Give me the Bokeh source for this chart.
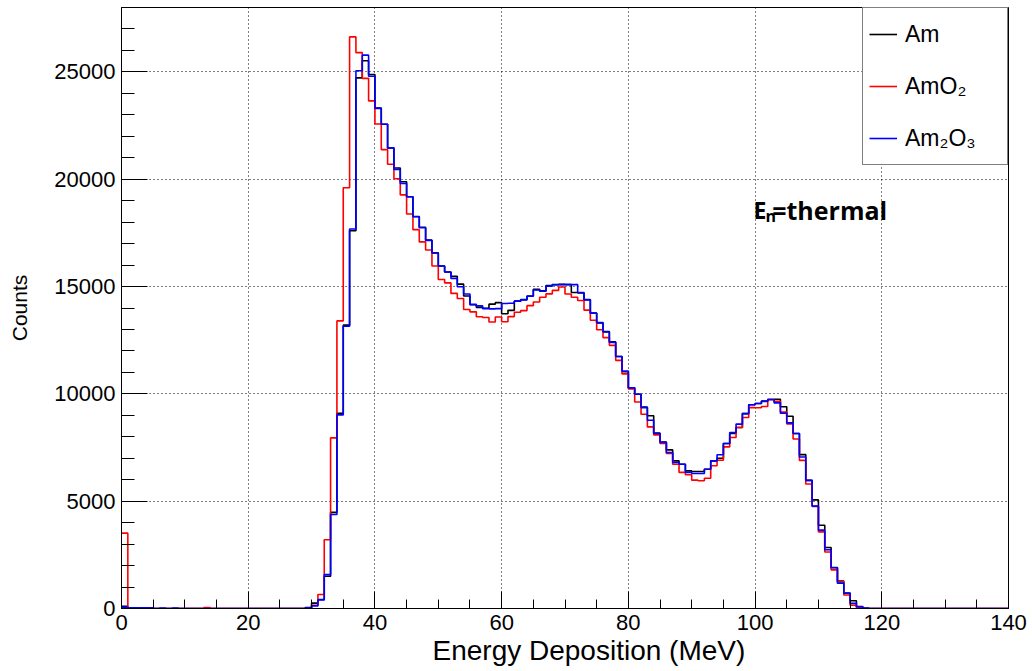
import math
from bokeh.plotting import figure
from bokeh.models import Range1d, FixedTicker, Label, Legend, LegendItem, BasicTickFormatter, Title
from bokeh.embed import file_html
from bokeh.resources import INLINE

# ---- data (1 MeV bins, 0..140 MeV) ----
bin_edges = list(range(0, 141))

am = [
    100, 20, 0, 0, 0, 0, 0, 0, 0, 0,
    0, 0, 0, 0, 0, 0, 0, 0, 0, 0,
    0, 0, 0, 0, 0, 0, 0, 0, 0, 40,
    250, 420, 1500, 4480, 9100, 13200, 17600, 24720, 25520, 24880,
    23320, 22560, 21460, 20520, 19880, 19180, 18260, 17760, 17160, 16570,
    15960, 15680, 15480, 15110, 14560, 14150, 14030, 13990, 14180, 14250,
    13730, 13890, 14320, 14390, 14560, 14870, 14800, 15050, 15090, 15100,
    15080, 14720, 14700, 14390, 13760, 13300, 12900, 12420, 11740, 11030,
    10280, 9980, 9380, 8980, 8170, 7760, 7390, 6880, 6720, 6410,
    6380, 6380, 6490, 6880, 7000, 7690, 8150, 8430, 9080, 9490,
    9550, 9660, 9740, 9750, 9400, 8960, 8150, 7170, 5970, 5060,
    3880, 2840, 1910, 1280, 720, 360, 90, 10, 0, 0,
    0, 0, 0, 0, 0, 0, 0, 0, 0, 0,
    0, 0, 0, 0, 0, 0, 0, 0, 0, 0,
]

amo2 = [
    3510, 0, 0, 0, 0, 0, 0, 0, 0, 0,
    0, 0, 0, 40, 0, 0, 0, 0, 0, 0,
    0, 0, 0, 0, 0, 0, 0, 0, 0, 30,
    150, 650, 3200, 7950, 13400, 19600, 26630, 25900, 24700, 23650,
    22570, 21380, 20700, 20020, 19270, 18380, 17650, 17080, 16700, 15960,
    15330, 15170, 14680, 14440, 13930, 13820, 13590, 13560, 13350, 13580,
    13360, 13600, 13800, 13880, 14110, 14280, 14500, 14660, 14820, 14980,
    14650, 14500, 14350, 13900, 13430, 12990, 12620, 12260, 11560, 10930,
    10230, 9620, 9050, 8460, 8090, 7690, 7220, 6720, 6340, 6230,
    5980, 5950, 6070, 6650, 6910, 7530, 7970, 8430, 8900, 9360,
    9350, 9410, 9740, 9650, 9150, 8600, 7900, 6900, 5800, 4760,
    3570, 2630, 1800, 1240, 630, 150, 40, 0, 0, 0,
    0, 0, 0, 0, 0, 0, 0, 0, 0, 0,
    0, 0, 0, 0, 0, 0, 0, 0, 0, 0,
]

am2o3 = [
    60, 30, 30, 30, 30, 0, 20, 0, 20, 0,
    0, 0, 0, 0, 0, 0, 0, 0, 0, 0,
    0, 0, 0, 0, 0, 0, 0, 0, 0, 30,
    120, 400, 1580, 4380, 9020, 13150, 17680, 25050, 25780, 24800,
    23300, 22560, 21460, 20450, 19800, 19180, 18250, 17740, 17150, 16560,
    15960, 15680, 15380, 14990, 14650, 14170, 14100, 13970, 13960, 13970,
    14210, 14220, 14320, 14380, 14550, 14840, 14780, 15020, 15080, 15090,
    15100, 15090, 14720, 14380, 13760, 13320, 12880, 12400, 11740, 11060,
    10280, 9980, 9360, 8770, 8150, 7740, 7270, 6800, 6720, 6340,
    6290, 6290, 6490, 6880, 7160, 7690, 8200, 8590, 9080, 9490,
    9550, 9650, 9740, 9580, 9100, 8650, 8150, 7060, 5970, 4770,
    3650, 2740, 1900, 1180, 710, 240, 80, 20, 0, 0,
    0, 0, 0, 0, 0, 0, 0, 0, 0, 0,
    0, 0, 0, 0, 0, 0, 0, 0, 0, 0,
]

series_labels = ["Am", "AmO\u2082", "Am\u2082O\u2083"]
series_colors = ["#000000", "#ff0000", "#0000ff"]

x_major = [0, 20, 40, 60, 80, 100, 120, 140]
x_minor = list(range(0, 141, 5))
y_major = [0, 5000, 10000, 15000, 20000, 25000]
y_minor = list(range(0, 28001, 1000))

FONT = "Liberation Sans"

p = figure(width=1032, height=671, output_backend="svg", toolbar_location=None,
           x_range=Range1d(0, 140), y_range=Range1d(0, 28000),
           min_border_left=121, min_border_right=24, min_border_top=7, min_border_bottom=63)
p.background_fill_color = "white"
p.border_fill_color = "white"
p.outline_line_color = "black"
p.outline_line_width = 1

for ax, maj, mnr, tin, tmin in ((p.xaxis[0], x_major, x_minor, 17, 9), (p.yaxis[0], y_major, y_minor, 26, 13)):
    ax.ticker = FixedTicker(ticks=maj, minor_ticks=mnr)
    ax.major_tick_in = tin
    ax.major_tick_out = 0
    ax.minor_tick_in = tmin
    ax.minor_tick_out = 0
    ax.axis_line_color = "black"
    ax.major_tick_line_color = "black"
    ax.minor_tick_line_color = "black"
    ax.major_label_text_font = FONT
    ax.major_label_text_font_size = "22px"
    ax.major_label_text_color = "black"
p.xaxis.major_label_standoff = 6
p.yaxis.major_label_standoff = 6
p.yaxis[0].formatter = BasicTickFormatter(use_scientific=False)

p.yaxis[0].axis_label = "Counts"
p.yaxis[0].axis_label_text_font = FONT
p.yaxis[0].axis_label_text_font_size = "21px"
p.yaxis[0].axis_label_text_font_style = "normal"
p.yaxis[0].axis_label_text_color = "black"
p.yaxis[0].axis_label_standoff = 20

for g in (p.xgrid, p.ygrid):
    g.grid_line_color = "black"
    g.grid_line_dash = "1 3"
    g.grid_line_width = 1
p.xgrid.ticker = FixedTicker(ticks=x_major)
p.ygrid.ticker = FixedTicker(ticks=y_major)

items = []
for vals, lab, col in zip((am, amo2, am2o3), series_labels, series_colors):
    yv = list(vals) + [vals[-1]]
    r = p.step(bin_edges, yv, mode="after", line_color=col, line_width=1.6)
    items.append(LegendItem(label=lab, renderers=[r]))

legend = Legend(items=items, location="top_right", margin=0, padding=6,
                spacing=12, glyph_width=28, glyph_height=40, label_height=40,
                label_width=96, label_standoff=8,
                label_text_font=FONT, label_text_font_size="23px",
                label_text_baseline="middle", label_text_color="black",
                border_line_color="black", border_line_width=1,
                background_fill_color="white", background_fill_alpha=1.0)
p.add_layout(legend)

# x axis title, placed below the axis
p.add_layout(Title(text="Energy Deposition (MeV)", align="left", offset=311,
                   text_font=FONT, text_font_size="28px", text_font_style="normal",
                   text_color="black", standoff=0), "below")

# annotation E_n = thermal
p.add_layout(Label(x=101.8, y=18570, text="E", text_align="right", text_baseline="alphabetic",
                   text_font="Open Sans", text_font_style="bold", text_font_size="23px",
                   text_color="black"))
p.add_layout(Label(x=101.65, y=18290, text="n", text_align="left", text_baseline="alphabetic",
                   text_font="Open Sans", text_font_style="bold", text_font_size="16px",
                   text_color="black"))
p.add_layout(Label(x=102.7, y=18570, text="=thermal", text_align="left", text_baseline="alphabetic",
                   text_font="Open Sans", text_font_style="bold", text_font_size="25px",
                   text_color="black"))

open("out.html", "w").write(file_html(p, INLINE))
